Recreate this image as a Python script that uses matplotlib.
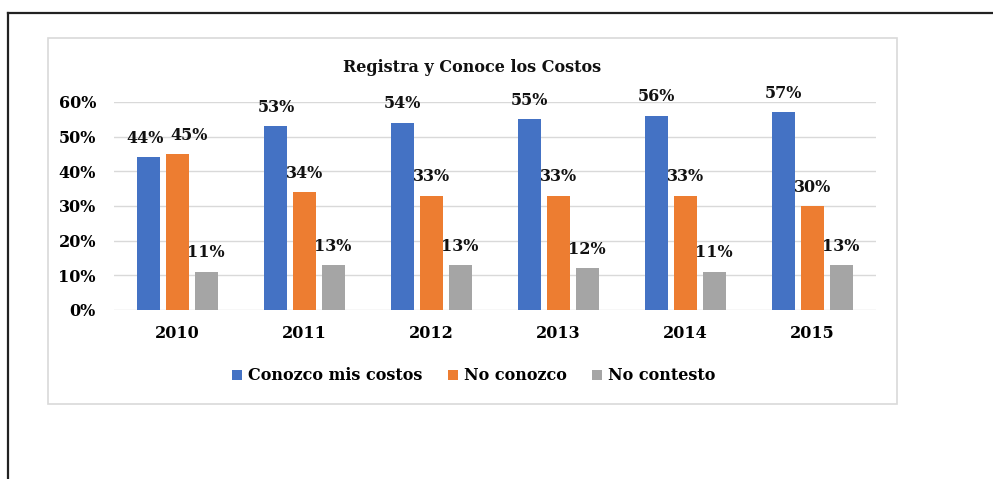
import matplotlib.pyplot as plt
import matplotlib.patches as patches
from matplotlib.lines import Line2D
import numpy as np

W, H = 993, 479

years = ["2010", "2011", "2012", "2013", "2014", "2015"]
conozco = [44, 53, 54, 55, 56, 57]
no_conozco = [45, 34, 33, 33, 33, 30]
no_contesto = [11, 13, 13, 12, 11, 13]
series_names = ["Conozco mis costos", "No conozco", "No contesto"]
colors = ["#4472C4", "#ED7D31", "#A5A5A5"]
yticks = [0, 10, 20, 30, 40, 50, 60]

FONT = "DejaVu Serif"


def fx(px):
    return px / W


def fy(py):
    return 1 - py / H


fig = plt.figure(figsize=(W / 100, H / 100), dpi=100)
fig.patch.set_facecolor("white")

# outer frame (top and left only)
fig.add_artist(Line2D([fx(8), fx(993)], [fy(13), fy(13)], color="#222222", lw=1.6))
fig.add_artist(Line2D([fx(8), fx(8)], [fy(13), fy(479)], color="#222222", lw=1.6))

# chart box
fig.add_artist(patches.Rectangle((fx(48), fy(404)), fx(897) - fx(48), fy(38) - fy(404),
                                 fill=False, ec="#d9d9d9", lw=1.2))

ax = fig.add_axes([fx(114), fy(310), fx(876) - fx(114), fy(102) - fy(310)])
ax.set_facecolor("none")

x = np.arange(len(years))
bw = 0.18
off = 0.225
data = [conozco, no_conozco, no_contesto]
# 2010 labels collide, nudge them apart like the original
nudge = {(0, 0): -0.03, (1, 0): 0.09}
for i, (vals, c) in enumerate(zip(data, colors)):
    pos = x + (i - 1) * off
    ax.bar(pos, vals, width=bw, color=c, zorder=3, label=series_names[i])
    for j, (p, v) in enumerate(zip(pos, vals)):
        ax.text(p + nudge.get((i, j), 0), v + 3.0, f"{v}%", ha="center", va="bottom",
                fontsize=11.5, fontweight="bold", family=FONT, color="#111111", zorder=4)

ax.set_xlim(-0.5, len(years) - 0.5)
ax.set_ylim(0, 60)
ax.set_yticks(yticks)
ax.set_yticklabels([f"{t}%" for t in yticks], fontsize=11.5, fontweight="bold", family=FONT)
ax.set_xticks(x)
ax.set_xticklabels(years, fontsize=11.5, fontweight="bold", family=FONT)
ax.tick_params(axis="y", length=0, pad=13)
ax.tick_params(axis="x", length=0, pad=11)
ax.grid(axis="y", color="#d9d9d9", lw=1, zorder=0)
for s in ax.spines.values():
    s.set_visible(False)

fig.text(fx(472), fy(68), "Registra y Conoce los Costos", ha="center", va="center",
         fontsize=11.5, fontweight="bold", family=FONT, color="#111111")

leg = fig.legend(loc="center", bbox_to_anchor=(fx(474), fy(376)), ncol=3, frameon=False,
                 prop={"family": FONT, "weight": "bold", "size": 11.5},
                 handlelength=0.6, handleheight=0.6, handletextpad=0.4, columnspacing=1.6)

plt.savefig("out.png", dpi=100)
